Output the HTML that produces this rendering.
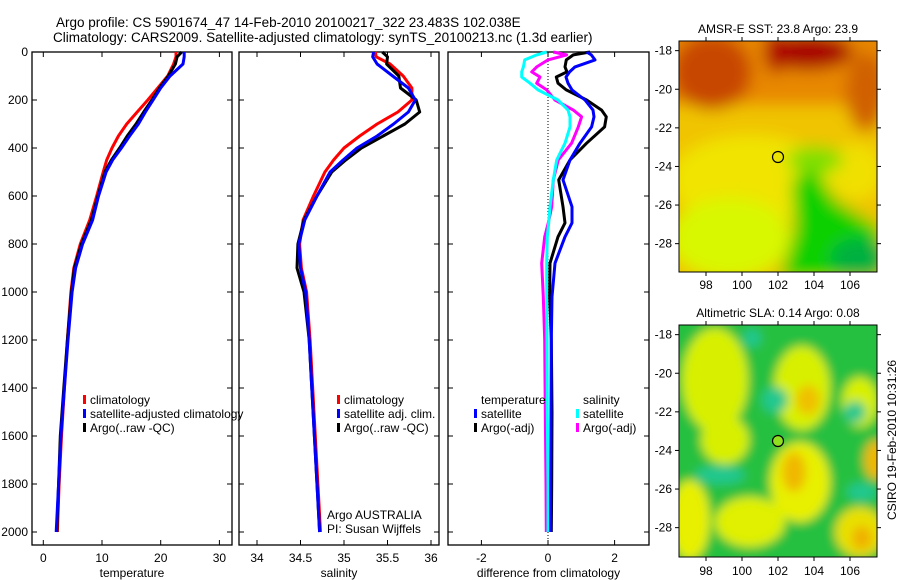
<!DOCTYPE html>
<html><head><meta charset="utf-8"><style>
html,body{margin:0;padding:0;background:#fff}
svg{display:block;font-family:"Liberation Sans",sans-serif}
</style></head><body>
<svg id="chart" width="900" height="580" viewBox="0 0 900 580" xmlns="http://www.w3.org/2000/svg">
<defs>
<filter id="blur8" x="-20%" y="-20%" width="140%" height="140%"><feGaussianBlur stdDeviation="8"/></filter>
<filter id="blur5" x="-20%" y="-20%" width="140%" height="140%"><feGaussianBlur stdDeviation="5"/></filter>
<clipPath id="clipTop"><rect x="679" y="41" width="198" height="231"/></clipPath>
<clipPath id="clipBot"><rect x="679" y="325" width="198" height="232"/></clipPath>
</defs>
<text x="56" y="27" font-size="13.5">Argo profile: CS 5901674_47 14-Feb-2010 20100217_322 23.483S 102.038E</text>
<text x="53" y="42" font-size="13.5">Climatology: CARS2009. Satellite-adjusted climatology: synTS_20100213.nc (1.3d earlier)</text>

<g>
<g clip-path="url(#clipTop)"><g filter="url(#blur8)">
<rect x="660" y="20" width="240" height="280" fill="#f0c400"/>
<rect x="660" y="20" width="240" height="85" fill="#e88800"/>
<ellipse cx="712" cy="72" rx="40" ry="38" fill="#c84600"/>
<ellipse cx="808" cy="52" rx="45" ry="18" fill="#a80000"/>
<ellipse cx="775" cy="52" rx="10" ry="22" fill="#b00000"/>
<ellipse cx="866" cy="92" rx="20" ry="40" fill="#d06000"/>
<ellipse cx="750" cy="180" rx="80" ry="45" fill="#f0e400"/>
<ellipse cx="730" cy="238" rx="60" ry="40" fill="#d8f800"/>
<ellipse cx="855" cy="172" rx="28" ry="28" fill="#f0e000"/>
<ellipse cx="815" cy="160" rx="28" ry="14" fill="#80e000"/>
<polygon points="792,180 815,168 835,200 880,228 880,280 780,280 795,230" fill="#10d000"/>
<ellipse cx="860" cy="258" rx="30" ry="20" fill="#00b040"/>
</g></g>
<rect x="679" y="41" width="198" height="231" fill="none" stroke="#000"/>
<circle cx="778" cy="157" r="5.5" fill="none" stroke="#000" stroke-width="1.2"/>
<text x="778" y="33" font-size="12" text-anchor="middle">AMSR-E SST: 23.8 Argo: 23.9</text>
<g id="sstTicks"></g>
</g>

<g>
<g clip-path="url(#clipBot)"><g filter="url(#blur5)">
<rect x="660" y="310" width="240" height="260" fill="#28c040"/>
<ellipse cx="715" cy="380" rx="33" ry="52" fill="#d8f000"/>
<ellipse cx="725" cy="440" rx="24" ry="24" fill="#d8f000"/>
<ellipse cx="802" cy="388" rx="28" ry="42" fill="#d8f000"/>
<ellipse cx="808" cy="400" rx="12" ry="15" fill="#f0c000"/>
<ellipse cx="860" cy="402" rx="18" ry="25" fill="#d8f000"/>
<ellipse cx="800" cy="482" rx="30" ry="40" fill="#e8f000"/>
<ellipse cx="794" cy="472" rx="12" ry="20" fill="#f0b800"/>
<ellipse cx="690" cy="520" rx="20" ry="40" fill="#e8f000"/>
<ellipse cx="750" cy="522" rx="35" ry="25" fill="#e0f000"/>
<ellipse cx="860" cy="532" rx="25" ry="25" fill="#e8e000"/>
<ellipse cx="862" cy="538" rx="10" ry="12" fill="#f0b000"/>
<ellipse cx="876" cy="460" rx="12" ry="20" fill="#f0b800"/>
<circle cx="775" cy="400" r="13" fill="#20c890"/>
<ellipse cx="720" cy="475" rx="25" ry="9" fill="#20c890"/>
<ellipse cx="862" cy="492" rx="15" ry="9" fill="#20c890"/>
<circle cx="855" cy="412" r="11" fill="#20c890"/>
<circle cx="752" cy="338" r="9" fill="#20c890"/>
</g></g>
<rect x="679" y="325" width="198" height="232" fill="none" stroke="#000"/>
<circle cx="778" cy="441" r="5.5" fill="#90e020" stroke="#000" stroke-width="1.2"/>
<text x="778" y="317" font-size="12" text-anchor="middle">Altimetric SLA: 0.14 Argo: 0.08</text>
<g id="slaTicks"></g>
</g>
<text transform="translate(896,440) rotate(-90)" font-size="12" text-anchor="middle">CSIRO 19-Feb-2010 10:31:26</text>
<g id="plots"></g>
</svg>
<script>
// depth levels (m)
const depths = [0,20,50,100,150,200,250,300,350,400,450,500,600,700,800,900,1000,1200,1400,1600,1800,2000];
// temperature profiles
const tempClim = [22.6,22.6,22.2,21.2,19.5,17.8,16.0,14.2,12.8,11.7,10.8,10.2,9.1,7.9,6.3,5.2,4.7,4.1,3.6,3.1,2.7,2.4];
const tempSat  = [24.0,24.0,23.8,21.6,20.0,18.7,17.4,16.2,14.7,13.3,11.8,10.7,9.4,8.4,6.7,5.5,4.9,4.2,3.6,3.0,2.6,2.2];
const tempArgo = [23.6,22.8,22.5,21.3,19.8,18.5,17.1,15.8,14.3,13.0,11.6,10.5,9.3,8.2,6.5,5.3,4.8,4.1,3.5,2.9,2.6,2.3];
// salinity profiles
const salClim = [35.36,35.37,35.53,35.68,35.78,35.78,35.62,35.38,35.18,35.00,34.88,34.78,34.65,34.53,34.49,34.51,34.57,34.61,34.64,34.67,34.70,34.73];
const salSat  = [35.34,35.33,35.38,35.56,35.74,35.82,35.74,35.57,35.38,35.15,34.99,34.84,34.69,34.55,34.48,34.50,34.56,34.60,34.63,34.66,34.69,34.72];
const salArgo = [35.44,35.50,35.49,35.63,35.65,35.83,35.87,35.70,35.45,35.20,35.02,34.86,34.69,34.54,34.47,34.46,34.54,34.60,34.63,34.66,34.69,34.72];
// difference profiles
const diffDepths = [0,12,33,62,83,104,130,158,200,242,270,312,380,450,533,645,712,770,880,1020,1200,1500,1800,2000];
const dTempSat  = [1.16,1.30,1.41,0.81,0.65,0.54,0.60,0.72,1.11,1.35,1.38,1.31,0.96,0.66,0.45,0.72,0.72,0.51,0.21,0.12,0.10,0.09,0.08,0.08];
const dTempArgo = [1.26,0.76,0.55,0.51,0.57,0.25,0.30,0.55,1.16,1.61,1.75,1.70,1.16,0.66,0.32,0.45,0.51,0.30,0.06,0.05,0.10,0.12,0.11,0.10];
const dSalSat   = [-0.04,-0.34,-0.70,-0.74,-0.79,-0.79,-0.54,-0.30,0.30,0.60,0.66,0.66,0.51,0.26,0.16,0.06,0.02,-0.02,-0.04,-0.04,-0.03,-0.02,0.0,0.0];
const dSalArgo  = [0.16,0.56,0.00,-0.34,-0.49,-0.24,-0.34,-0.04,0.21,0.76,1.01,0.91,0.71,0.31,0.16,0.11,0.01,-0.10,-0.19,-0.14,-0.10,-0.08,-0.06,-0.05];
// tick labels
const depthTicks = [0,200,400,600,800,1000,1200,1400,1600,1800,2000];
const tempTicks = [0,10,20,30];
const salTicks = [34,34.5,35,35.5,36];
const diffTicks = [-2,0,2];
const lonTicks = [98,100,102,104,106];
const latTicks = [-18,-20,-22,-24,-26,-28];

const NS='http://www.w3.org/2000/svg';
const root=document.getElementById('plots');
function mk(tag,attrs,parent){const e=document.createElementNS(NS,tag);for(const k in attrs)e.setAttribute(k,attrs[k]);(parent||root).appendChild(e);return e;}
const yD = d => 52 + d*0.24;
const plotTop=52,plotBottom=545;
const panels=[
 {name:'temperature-panel',x0:32,x1:232,sx:v=>43.3+v*5.87,ticks:tempTicks,label:'temperature',ylabels:true},
 {name:'salinity-panel',x0:239,x1:439,sx:v=>257+(v-34)*87,ticks:salTicks,label:'salinity',ylabels:false},
 {name:'difference-panel',x0:448,x1:649,sx:v=>548+v*33.3,ticks:diffTicks,label:'difference from climatology',ylabels:false}
];
panels.forEach(p=>{
  const g=mk('g',{});
  
  
  const r=mk('rect',{x:p.x0,y:plotTop,width:p.x1-p.x0,height:plotBottom-plotTop,fill:'none',stroke:'#000','stroke-width':1.3},g);
  
  
  depthTicks.forEach(d=>{
    const y=yD(d);
    mk('line',{x1:p.x0,x2:p.x0+5,y1:y,y2:y,stroke:'#000'},g);
    mk('line',{x1:p.x1,x2:p.x1-5,y1:y,y2:y,stroke:'#000'},g);
    if(p.ylabels){const t=mk('text',{x:p.x0-4,y:y+4,'font-size':12,'text-anchor':'end'},g);t.textContent=d;
      
      }
  });
  p.ticks.forEach(v=>{
    const x=p.sx(v);
    mk('line',{x1:x,x2:x,y1:plotBottom,y2:plotBottom-5,stroke:'#000'},g);
    mk('line',{x1:x,x2:x,y1:plotTop,y2:plotTop+5,stroke:'#000'},g);
    const t=mk('text',{x:x,y:562,'font-size':12,'text-anchor':'middle'},g);t.textContent=v;
    
    
  });
  const xl=mk('text',{x:(p.x0+p.x1)/2,y:577,'font-size':12,'text-anchor':'middle'},g);xl.textContent=p.label;
  
  
  p.g=g;
});
function line(p,dep,vals,color,name){
  const pts=dep.map((d,i)=>p.sx(vals[i]).toFixed(1)+','+yD(d).toFixed(1)).join(' ');
  const l=mk('polyline',{points:pts,fill:'none',stroke:color,'stroke-width':3,'stroke-linejoin':'round'},p.g);
  
  
}
const zl=mk('line',{x1:panels[2].sx(0),x2:panels[2].sx(0),y1:plotTop,y2:plotBottom,stroke:'#000','stroke-dasharray':'1,2'},panels[2].g);


line(panels[0],depths,tempClim,'#f00','temp-climatology-line');
line(panels[0],depths,tempArgo,'#000','temp-argo-line');
line(panels[0],depths,tempSat,'#00f','temp-satellite-line');
line(panels[1],depths,salClim,'#f00','sal-climatology-line');
line(panels[1],depths,salArgo,'#000','sal-argo-line');
line(panels[1],depths,salSat,'#00f','sal-satellite-line');
line(panels[2],diffDepths,dSalArgo,'#f0f','diff-sal-argo-line');
line(panels[2],diffDepths,dSalSat,'#0ff','diff-sal-satellite-line');
line(panels[2],diffDepths,dTempArgo,'#000','diff-temp-argo-line');
line(panels[2],diffDepths,dTempSat,'#00f','diff-temp-satellite-line');

function legend(g,x,y,color,text){
  const e=mk('g',{},g);
  
  
  if(color)mk('rect',{x:x,y:y-9,width:3,height:9,fill:color},e);
  const t=mk('text',{x:x+7,y:y,'font-size':12},e);t.textContent=text;
}
legend(panels[0].g,83,404,'#f00','climatology');
legend(panels[0].g,83,418,'#00f','satellite-adjusted climatology');
legend(panels[0].g,83,432,'#000','Argo(..raw -QC)');
legend(panels[1].g,337,404,'#f00','climatology');
legend(panels[1].g,337,418,'#00f','satellite adj. clim.');
legend(panels[1].g,337,432,'#000','Argo(..raw -QC)');
legend(panels[1].g,320,519,null,'Argo AUSTRALIA');
legend(panels[1].g,320,533,null,'PI: Susan Wijffels');
legend(panels[2].g,474,404,null,'temperature');
legend(panels[2].g,474,418,'#00f','satellite');
legend(panels[2].g,474,432,'#000','Argo(-adj)');
legend(panels[2].g,576,404,null,'salinity');
legend(panels[2].g,576,418,'#0ff','satellite');
legend(panels[2].g,576,432,'#f0f','Argo(-adj)');

function mapTicks(id,y0,y1,labY){
  const g=document.getElementById(id);
  const lx=v=>679+(v-96.5)*18, ly=v=>y0+(-17.5-v)*19.3;
  lonTicks.forEach(v=>{const x=lx(v);
    mk('line',{x1:x,x2:x,y1:y0,y2:y0-4,stroke:'#000'},g);
    mk('line',{x1:x,x2:x,y1:y1,y2:y1+4,stroke:'#000'},g);
    const t=mk('text',{x:x,y:labY,'font-size':12,'text-anchor':'middle'},g);t.textContent=v;
    
    });
  latTicks.forEach(v=>{const y=ly(v);
    mk('line',{x1:679,x2:675,y1:y,y2:y,stroke:'#000'},g);
    mk('line',{x1:877,x2:881,y1:y,y2:y,stroke:'#000'},g);
    const t=mk('text',{x:672,y:y+4,'font-size':12,'text-anchor':'end'},g);t.textContent=v;
    
    });
}
mapTicks('sstTicks',41,272,289);
mapTicks('slaTicks',325,557,575);
</script>
</body></html>
